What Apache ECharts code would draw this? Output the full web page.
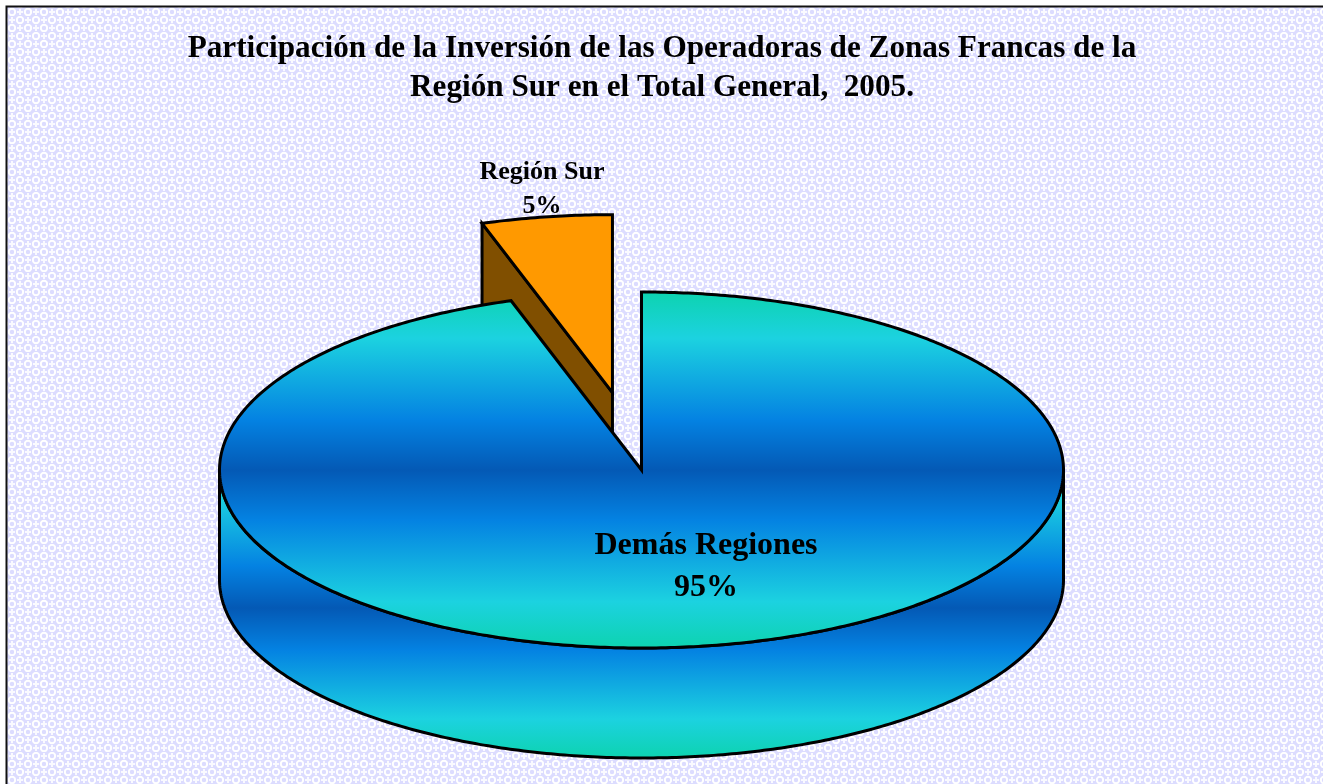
<!DOCTYPE html>
<html><head><meta charset="utf-8">
<style>html,body{margin:0;padding:0;background:#fff}#c{width:1323px;height:784px}</style>
<script src="https://cdn.jsdelivr.net/npm/echarts@6/dist/echarts.min.js"></script>
</head><body><div id="c"></div>
<script>
const categories = ['Región Sur', 'Demás Regiones'];
const values = [5, 95];
const titleLines = ['Participación de la Inversión de las Operadoras de Zonas Francas de la', 'Región Sur en el Total General,  2005.'];

const FONT = '"Liberation Serif","Times New Roman",serif';
const PIE = {cx: 641.5, cy: 470, rx: 422, ry: 178, depth: 110, explode: 0.44};
const total = values.reduce((a, b) => a + b, 0);

function tile() {
  const t = document.createElement('canvas'); t.width = t.height = 16;
  const c = t.getContext('2d');
  c.fillStyle = '#dcdcff'; c.fillRect(0, 0, 16, 16);
  c.strokeStyle = '#ffffff'; c.lineWidth = 2;
  [[4, 4], [12, 12]].forEach(([x, y]) => { c.beginPath(); c.arc(x, y, 3.2, 0, 7); c.stroke(); });
  c.fillStyle = '#fafaff';
  [[12, 4], [4, 12]].forEach(([x, y]) => { c.fillRect(x - 3, y - 1, 6, 2); c.fillRect(x - 1, y - 3, 2, 6); });
  return t;
}
function stops(list) { return list.map(([offset, color]) => ({offset, color})); }
const GRAD = [[0,'#0dd3b0'],[0.13,'#1cd2e0'],[0.36,'#0482e2'],[0.5,'#0459b5'],[0.64,'#0482e2'],[0.87,'#1cd2e0'],[1,'#0dd3b0']];
function grad(y0, y1) { return new echarts.graphic.LinearGradient(0, y0, 0, y1, stops(GRAD), true); }
function pt(cx, cy, a) { return [cx + PIE.rx * Math.sin(a), cy - PIE.ry * Math.cos(a)]; }
function arc(cx, cy, a0, a1) {
  const n = Math.max(8, Math.ceil(Math.abs(a1 - a0) * 90)), out = [];
  for (let i = 0; i <= n; i++) out.push(pt(cx, cy, a0 + (a1 - a0) * i / n));
  return out;
}
const STROKE = {stroke: '#000', lineWidth: 3, lineJoin: 'miter'};
function poly(points, fill) { return {type: 'polygon', shape: {points}, style: Object.assign({fill}, STROKE)}; }

function renderItem(params, api) {
  const v = api.value(1);
  const frac = v / total;
  const i = params.dataIndex;
  const children = [];
  const pctText = Math.round(frac * 100) + '%';
  if (i === 0) {
    // small slice ends at the top of the pie (angle 0) and is exploded along its bisector
    const a0 = -frac * 2 * Math.PI, a1 = 0, mid = (a0 + a1) / 2;
    const cx = PIE.cx + PIE.explode * PIE.rx * Math.sin(mid);
    const cy = PIE.cy - PIE.explode * PIE.ry * Math.cos(mid);
    const p0 = pt(cx, cy, a0);
    children.push(poly([[cx, cy], p0, [p0[0], p0[1] + PIE.depth], [cx, cy + PIE.depth]], '#804f00'));
    children.push(poly([[cx, cy]].concat(arc(cx, cy, a0, a1)), '#ff9900'));
    children.push({type: 'text', style: {text: categories[i] + '\n' + pctText, x: 542, y: 189,
      align: 'center', verticalAlign: 'middle', fontFamily: FONT, fontWeight: 'bold', fontSize: 26, lineHeight: 34, fill: '#000'}});
  } else {
    const a0 = 0, a1 = frac * 2 * Math.PI;
    const {cx, cy, depth} = PIE;
    const upper = arc(cx, cy, Math.PI / 2, 1.5 * Math.PI);
    const lower = arc(cx, cy + depth, 1.5 * Math.PI, Math.PI / 2);
    children.push(poly(upper.concat(lower), grad(cy - 12, cy + depth + 178)));
    children.push(poly([[cx, cy]].concat(arc(cx, cy, a0, a1)), grad(cy - PIE.ry, cy + PIE.ry)));
    children.push({type: 'text', style: {text: categories[i] + '\n' + pctText, x: 706, y: 567,
      align: 'center', verticalAlign: 'middle', fontFamily: FONT, fontWeight: 'bold', fontSize: 32, lineHeight: 42, fill: '#000'}});
  }
  return {type: 'group', children};
}

const chart = echarts.init(document.getElementById('c'), null, {renderer: 'canvas'});
chart.setOption({
  animation: false,
  backgroundColor: '#fff',
  title: {
    text: titleLines.join('\n'), left: 657, top: 24, textAlign: 'center',
    textStyle: {fontFamily: FONT, fontWeight: 'bold', fontSize: 31.2, lineHeight: 39, color: '#000'}
  },
  graphic: [
    {type: 'rect', z: 0, shape: {x: 7, y: 7, width: 1316, height: 777}, style: {fill: {image: tile(), repeat: 'repeat'}}},
    {type: 'polyline', z: 1, shape: {points: [[6.5, 784], [6.5, 6.5], [1323, 6.5]]}, style: {stroke: '#111', lineWidth: 2, fill: null}}
  ],
  series: [{
    type: 'custom', coordinateSystem: 'none', z: 3, silent: true,
    encode: {itemName: 0, value: 1},
    data: categories.map((c, i) => [c, values[i]]),
    renderItem
  }]
});
</script></body></html>
